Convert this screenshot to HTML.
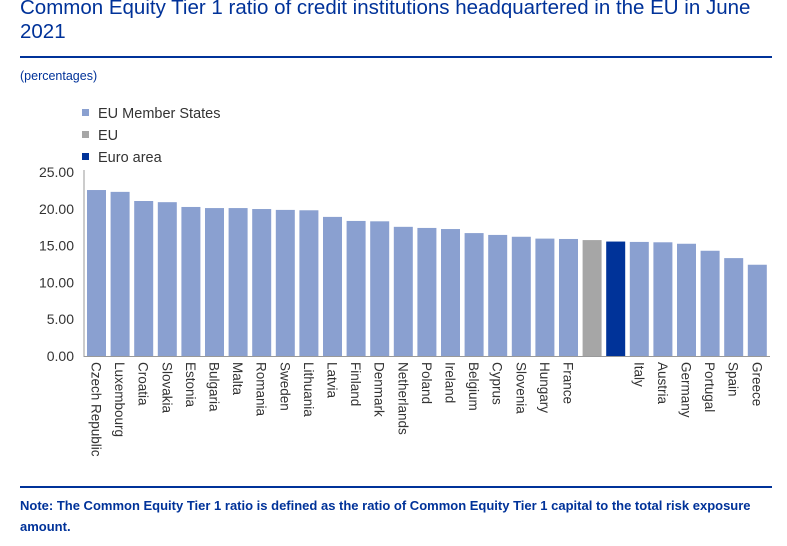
<!DOCTYPE html>
<html><head><meta charset="utf-8"><style>
body{margin:0;width:787px;height:546px;background:#fff;font-family:"Liberation Sans",sans-serif;position:relative;overflow:hidden}
.t{position:absolute;left:20px;top:-4px;font-size:20.5px;line-height:24px;color:#003299;width:760px}
.rule{position:absolute;left:20px;width:752px;height:2px;background:#003299}
.pct{position:absolute;left:20px;top:69px;font-size:12.5px;color:#003299}
.note{position:absolute;left:20px;top:495px;font-size:13px;line-height:21px;font-weight:bold;color:#003299;width:750px}
</style></head><body>
<div class="t">Common Equity Tier 1 ratio of credit institutions headquartered in the EU in June 2021</div>
<div class="rule" style="top:56px"></div>
<div class="pct">(percentages)</div>
<svg id="c" width="787" height="546" style="position:absolute;left:0;top:0"></svg>
<div class="rule" style="top:486px"></div>
<div class="note">Note: The Common Equity Tier 1 ratio is defined as the ratio of Common Equity Tier 1 capital to the total risk exposure amount.</div>
<script>
const categories=["Czech Republic","Luxembourg","Croatia","Slovakia","Estonia","Bulgaria","Malta","Romania","Sweden","Lithuania","Latvia","Finland","Denmark","Netherlands","Poland","Ireland","Belgium","Cyprus","Slovenia","Hungary","France","EU","Euro area","Italy","Austria","Germany","Portugal","Spain","Greece"];
const values=[22.55,22.3,21.06,20.9,20.25,20.1,20.1,19.97,19.85,19.8,18.9,18.35,18.3,17.55,17.4,17.25,16.7,16.45,16.2,15.95,15.9,15.75,15.55,15.5,15.45,15.25,14.3,13.3,12.4];
const groups=["m","m","m","m","m","m","m","m","m","m","m","m","m","m","m","m","m","m","m","m","m","eu","ea","m","m","m","m","m","m"];
const hiddenLabels=["EU","Euro area"];
const yTicks=[0,5,10,15,20,25];
const colors={m:"#8aa0d0",eu:"#a6a6a6",ea:"#003399"};
const legend=[["EU Member States","m"],["EU","eu"],["Euro area","ea"]];
const svg=document.getElementById('c');const NS="http://www.w3.org/2000/svg";
function mk(t,a,txt){const e=document.createElementNS(NS,t);for(const k in a)e.setAttribute(k,a[k]);if(txt!==undefined)e.textContent=txt;svg.appendChild(e);return e;}
const y0=356,yTop=172,yMax=25,x0=84,slot=23.6,bw=19;
const y=v=>y0-(v/yMax)*(y0-yTop);
const x=i=>x0+3+i*slot;
yTicks.forEach(t=>{const e=mk('text',{x:74,y:y(t)+5,'text-anchor':'end','font-size':14,fill:'#333'},t.toFixed(2));

});
categories.forEach((c,i)=>{const r=mk('rect',{x:x(i),y:y(values[i]),width:bw,height:y0-y(values[i]),fill:colors[groups[i]]});


if(hiddenLabels.indexOf(c)<0){const cx=x(i)+bw/2;const t=mk('text',{x:cx-5,y:y0+6,transform:`rotate(90 ${cx-5} ${y0+6})`,'font-size':13.5,fill:'#333'},c);

}});
const ax=mk('line',{x1:x0,y1:yTop-2,x2:x0,y2:y0+1,stroke:'#999','stroke-width':1});


const bx=mk('line',{x1:x0,y1:y0+0.5,x2:770,y2:y0+0.5,stroke:'#999','stroke-width':1});


legend.forEach((l,i)=>{const ly=113+i*22;const s=mk('rect',{x:82,y:ly-4,width:7,height:7,fill:colors[l[1]]});


const t=mk('text',{x:98,y:ly+5,'font-size':14.5,fill:'#333'},l[0]);

});
</script>
</body></html>
